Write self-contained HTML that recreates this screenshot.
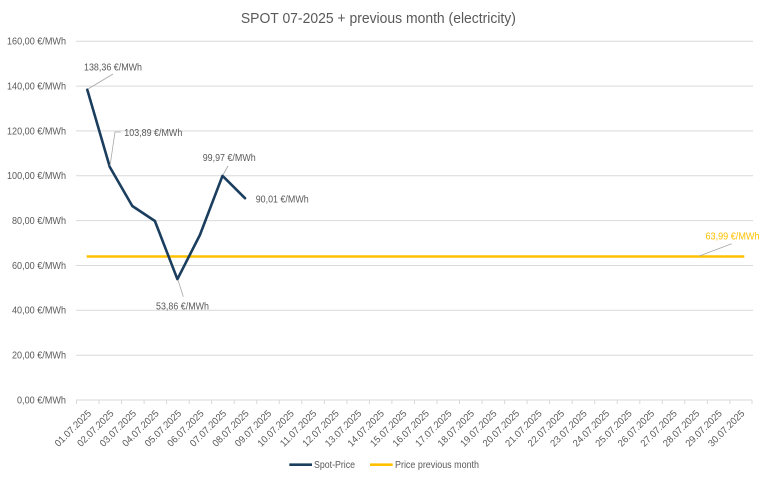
<!DOCTYPE html>
<html><head><meta charset="utf-8"><style>
html,body{margin:0;padding:0;background:#fff;}
svg{display:block;}
text{font-family:"Liberation Sans",sans-serif;fill:#595959;}
</style></head><body>
<svg width="768" height="481" viewBox="0 0 768 481" xmlns="http://www.w3.org/2000/svg">
<rect width="768" height="481" fill="#fff"/>
<text x="378.4" y="23" font-size="14.5" text-anchor="middle" textLength="275" lengthAdjust="spacingAndGlyphs">SPOT 07-2025 + previous month (electricity)</text>
<g stroke="#d9d9d9" stroke-width="1">
<line x1="76" y1="41.2" x2="753" y2="41.2"/>
<line x1="76" y1="86.1" x2="753" y2="86.1"/>
<line x1="76" y1="130.9" x2="753" y2="130.9"/>
<line x1="76" y1="175.8" x2="753" y2="175.8"/>
<line x1="76" y1="220.6" x2="753" y2="220.6"/>
<line x1="76" y1="265.5" x2="753" y2="265.5"/>
<line x1="76" y1="310.3" x2="753" y2="310.3"/>
<line x1="76" y1="355.2" x2="753" y2="355.2"/>
<line x1="76" y1="400" x2="752" y2="400"/>
</g>
<g font-size="9.8" text-anchor="end">
<text x="66" y="44.6" textLength="59" lengthAdjust="spacingAndGlyphs">160,00 €/MWh</text>
<text x="66" y="89.5" textLength="59" lengthAdjust="spacingAndGlyphs">140,00 €/MWh</text>
<text x="66" y="134.3" textLength="59" lengthAdjust="spacingAndGlyphs">120,00 €/MWh</text>
<text x="66" y="179.2" textLength="59" lengthAdjust="spacingAndGlyphs">100,00 €/MWh</text>
<text x="66" y="224" textLength="54" lengthAdjust="spacingAndGlyphs">80,00 €/MWh</text>
<text x="66" y="268.9" textLength="54" lengthAdjust="spacingAndGlyphs">60,00 €/MWh</text>
<text x="66" y="313.7" textLength="54" lengthAdjust="spacingAndGlyphs">40,00 €/MWh</text>
<text x="66" y="358.6" textLength="54" lengthAdjust="spacingAndGlyphs">20,00 €/MWh</text>
<text x="66" y="403.4" textLength="49" lengthAdjust="spacingAndGlyphs">0,00 €/MWh</text>
</g>
<g stroke="#d9d9d9" stroke-width="1">
<line x1="76.5" y1="400" x2="76.5" y2="404"/><line x1="99" y1="400" x2="99" y2="404"/><line x1="121.6" y1="400" x2="121.6" y2="404"/><line x1="144.1" y1="400" x2="144.1" y2="404"/><line x1="166.6" y1="400" x2="166.6" y2="404"/><line x1="189.2" y1="400" x2="189.2" y2="404"/><line x1="211.7" y1="400" x2="211.7" y2="404"/><line x1="234.2" y1="400" x2="234.2" y2="404"/><line x1="256.8" y1="400" x2="256.8" y2="404"/><line x1="279.3" y1="400" x2="279.3" y2="404"/><line x1="301.8" y1="400" x2="301.8" y2="404"/><line x1="324.3" y1="400" x2="324.3" y2="404"/><line x1="346.9" y1="400" x2="346.9" y2="404"/><line x1="369.4" y1="400" x2="369.4" y2="404"/><line x1="391.9" y1="400" x2="391.9" y2="404"/><line x1="414.5" y1="400" x2="414.5" y2="404"/><line x1="437" y1="400" x2="437" y2="404"/><line x1="459.5" y1="400" x2="459.5" y2="404"/><line x1="482.1" y1="400" x2="482.1" y2="404"/><line x1="504.6" y1="400" x2="504.6" y2="404"/><line x1="527.1" y1="400" x2="527.1" y2="404"/><line x1="549.6" y1="400" x2="549.6" y2="404"/><line x1="572.2" y1="400" x2="572.2" y2="404"/><line x1="594.7" y1="400" x2="594.7" y2="404"/><line x1="617.2" y1="400" x2="617.2" y2="404"/><line x1="639.8" y1="400" x2="639.8" y2="404"/><line x1="662.3" y1="400" x2="662.3" y2="404"/><line x1="684.8" y1="400" x2="684.8" y2="404"/><line x1="707.4" y1="400" x2="707.4" y2="404"/><line x1="729.9" y1="400" x2="729.9" y2="404"/><line x1="752" y1="400" x2="752" y2="404"/>
</g>
<g font-size="9.8" text-anchor="end">
<text transform="translate(91.8,414) rotate(-45)" textLength="47" lengthAdjust="spacingAndGlyphs">01.07.2025</text>
<text transform="translate(114.3,414) rotate(-45)" textLength="47" lengthAdjust="spacingAndGlyphs">02.07.2025</text>
<text transform="translate(136.8,414) rotate(-45)" textLength="47" lengthAdjust="spacingAndGlyphs">03.07.2025</text>
<text transform="translate(159.4,414) rotate(-45)" textLength="47" lengthAdjust="spacingAndGlyphs">04.07.2025</text>
<text transform="translate(181.9,414) rotate(-45)" textLength="47" lengthAdjust="spacingAndGlyphs">05.07.2025</text>
<text transform="translate(204.4,414) rotate(-45)" textLength="47" lengthAdjust="spacingAndGlyphs">06.07.2025</text>
<text transform="translate(227,414) rotate(-45)" textLength="47" lengthAdjust="spacingAndGlyphs">07.07.2025</text>
<text transform="translate(249.5,414) rotate(-45)" textLength="47" lengthAdjust="spacingAndGlyphs">08.07.2025</text>
<text transform="translate(272,414) rotate(-45)" textLength="47" lengthAdjust="spacingAndGlyphs">09.07.2025</text>
<text transform="translate(294.6,414) rotate(-45)" textLength="47" lengthAdjust="spacingAndGlyphs">10.07.2025</text>
<text transform="translate(317.1,414) rotate(-45)" textLength="47" lengthAdjust="spacingAndGlyphs">11.07.2025</text>
<text transform="translate(339.6,414) rotate(-45)" textLength="47" lengthAdjust="spacingAndGlyphs">12.07.2025</text>
<text transform="translate(362.1,414) rotate(-45)" textLength="47" lengthAdjust="spacingAndGlyphs">13.07.2025</text>
<text transform="translate(384.7,414) rotate(-45)" textLength="47" lengthAdjust="spacingAndGlyphs">14.07.2025</text>
<text transform="translate(407.2,414) rotate(-45)" textLength="47" lengthAdjust="spacingAndGlyphs">15.07.2025</text>
<text transform="translate(429.7,414) rotate(-45)" textLength="47" lengthAdjust="spacingAndGlyphs">16.07.2025</text>
<text transform="translate(452.3,414) rotate(-45)" textLength="47" lengthAdjust="spacingAndGlyphs">17.07.2025</text>
<text transform="translate(474.8,414) rotate(-45)" textLength="47" lengthAdjust="spacingAndGlyphs">18.07.2025</text>
<text transform="translate(497.3,414) rotate(-45)" textLength="47" lengthAdjust="spacingAndGlyphs">19.07.2025</text>
<text transform="translate(519.9,414) rotate(-45)" textLength="47" lengthAdjust="spacingAndGlyphs">20.07.2025</text>
<text transform="translate(542.4,414) rotate(-45)" textLength="47" lengthAdjust="spacingAndGlyphs">21.07.2025</text>
<text transform="translate(564.9,414) rotate(-45)" textLength="47" lengthAdjust="spacingAndGlyphs">22.07.2025</text>
<text transform="translate(587.4,414) rotate(-45)" textLength="47" lengthAdjust="spacingAndGlyphs">23.07.2025</text>
<text transform="translate(610,414) rotate(-45)" textLength="47" lengthAdjust="spacingAndGlyphs">24.07.2025</text>
<text transform="translate(632.5,414) rotate(-45)" textLength="47" lengthAdjust="spacingAndGlyphs">25.07.2025</text>
<text transform="translate(655,414) rotate(-45)" textLength="47" lengthAdjust="spacingAndGlyphs">26.07.2025</text>
<text transform="translate(677.6,414) rotate(-45)" textLength="47" lengthAdjust="spacingAndGlyphs">27.07.2025</text>
<text transform="translate(700.1,414) rotate(-45)" textLength="47" lengthAdjust="spacingAndGlyphs">28.07.2025</text>
<text transform="translate(722.6,414) rotate(-45)" textLength="47" lengthAdjust="spacingAndGlyphs">29.07.2025</text>
<text transform="translate(745.2,414) rotate(-45)" textLength="47" lengthAdjust="spacingAndGlyphs">30.07.2025</text>
</g>
<line x1="86.7" y1="256.5" x2="744.3" y2="256.5" stroke="#FFC000" stroke-width="2.6"/>
<polyline points="87.3,89.7 109.8,167 132.3,206 154.9,221 177.4,279.2 199.9,235 222.5,175.8 245,198.2" fill="none" stroke="#1b3e5e" stroke-width="2.6" stroke-linejoin="round" stroke-linecap="round"/>
<g stroke="#a6a6a6" stroke-width="0.8" fill="none">
<line x1="88" y1="89" x2="113" y2="74"/>
<polyline points="110,166 115,132 120.7,132"/>
<line x1="223" y1="175" x2="228" y2="166"/>
<line x1="178" y1="280" x2="183.3" y2="296.7"/>
<line x1="699.3" y1="256" x2="731.7" y2="243.7"/>
</g>
<g font-size="9.8">
<text x="84" y="70.4" textLength="58" lengthAdjust="spacingAndGlyphs">138,36 €/MWh</text>
<text x="124.3" y="136.1" textLength="58" lengthAdjust="spacingAndGlyphs">103,89 €/MWh</text>
<text x="202.7" y="161.1" textLength="53" lengthAdjust="spacingAndGlyphs">99,97 €/MWh</text>
<text x="255.7" y="202.4" textLength="53" lengthAdjust="spacingAndGlyphs">90,01 €/MWh</text>
<text x="156" y="309.4" textLength="53" lengthAdjust="spacingAndGlyphs">53,86 €/MWh</text>
<text x="705.5" y="239.6" textLength="54" lengthAdjust="spacingAndGlyphs" style="fill:#FFC000">63,99 €/MWh</text>
</g>
<line x1="289.3" y1="464.7" x2="312" y2="464.7" stroke="#1b3e5e" stroke-width="2.6"/>
<text x="314" y="468.2" font-size="10" textLength="41" lengthAdjust="spacingAndGlyphs">Spot-Price</text>
<line x1="370" y1="464.7" x2="392.7" y2="464.7" stroke="#FFC000" stroke-width="2.6"/>
<text x="395" y="468.2" font-size="10" textLength="84" lengthAdjust="spacingAndGlyphs">Price previous month</text>
</svg>
</body></html>
